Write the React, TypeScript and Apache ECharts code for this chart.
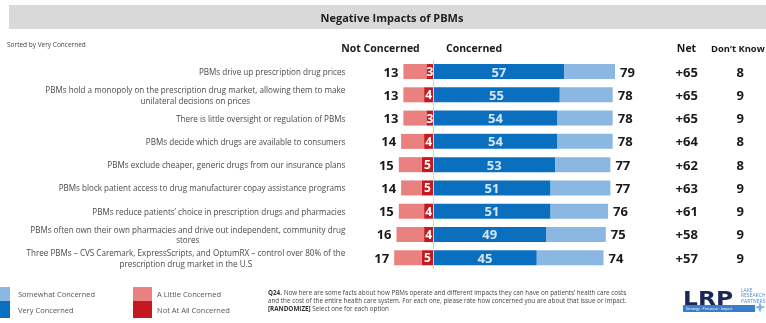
import React, { useEffect, useRef } from "react";
import * as echarts from "echarts";

const statements = [
  "PBMs drive up prescription drug prices",
  "PBMs hold a monopoly on the prescription drug market, allowing them to make\nunilateral decisions on prices",
  "There is little oversight or regulation of PBMs",
  "PBMs decide which drugs are available to consumers",
  "PBMs exclude cheaper, generic drugs from our insurance plans",
  "PBMs block patient access to drug manufacturer copay assistance programs",
  "PBMs reduce patients\u2019 choice in prescription drugs and pharmacies",
  "PBMs often own their own pharmacies and drive out independent, community drug\nstores",
  "Three PBMs \u2013 CVS Caremark, ExpressScripts, and OptumRX \u2013 control over 80% of the\nprescription drug market in the U.S",
];
const notAtAll = [3, 4, 3, 4, 5, 5, 4, 4, 5];
const notConcerned = [13, 13, 13, 14, 15, 14, 15, 16, 17];
const veryConcerned = [57, 55, 54, 54, 53, 51, 51, 49, 45];
const concerned = [79, 78, 78, 78, 77, 77, 76, 75, 74];
const net = [65, 65, 65, 64, 62, 63, 61, 58, 57];
const dontKnow = [8, 9, 9, 8, 8, 9, 9, 9, 9];

const seriesNames = ["Very Concerned", "Somewhat Concerned", "Not At All Concerned", "A Little Concerned"];
const COLORS = {
  very: "#0B6FC0",
  somewhat: "#8BB8E3",
  notAtAll: "#C41A1F",
  little: "#E8817F",
};
const FONT = '"Open Sans", "Noto Sans", sans-serif';

export default function App() {
  const ref = useRef<HTMLDivElement>(null);
  useEffect(() => {
    if (!ref.current) return;
    const chart = echarts.init(ref.current, null, { renderer: "svg" });
    const somewhat = concerned.map((c, i) => c - veryConcerned[i]);
    const little = notConcerned.map((n, i) => -(n - notAtAll[i]));
    const nota = notAtAll.map((v) => -v);

    const numLabel = {
      fontFamily: FONT,
      fontWeight: "bold" as const,
      fontSize: 13,
      color: "#1a1a1a",
    };

    const option: any = {
      animation: false,
      grid: { left: 387.3, right: 148.7, top: 59.9, bottom: 53.6, containLabel: false },
      xAxis: { type: "value", min: -20, max: 80, show: false },
      yAxis: [
        {
          type: "category",
          data: statements,
          inverse: true,
          axisLine: { show: false },
          axisTick: { show: false },
          axisLabel: {
            interval: 0,
            margin: 42,
            align: "right",
            formatter: (v: string) => v.split("\n").map((l) => `{c|${l}}`).join("\n"),
            rich: {
              c: { align: "center", fontFamily: FONT, fontSize: 8.1, color: "#4a4a4a", lineHeight: 10.5 },
            },
          },
        },
        {
          type: "category",
          data: statements,
          inverse: true,
          position: "right",
          axisLine: { show: false },
          axisTick: { show: false },
          axisLabel: {
            interval: 0,
            margin: 69.4,
            align: "center",
            formatter: (_v: string, i: number) => "+" + net[i],
            ...numLabel,
          },
        },
        {
          type: "category",
          data: statements,
          inverse: true,
          position: "right",
          axisLine: { show: false },
          axisTick: { show: false },
          axisLabel: {
            interval: 0,
            margin: 123,
            align: "center",
            formatter: (_v: string, i: number) => String(dontKnow[i]),
            ...numLabel,
          },
        },
      ],
      series: [
        {
          name: seriesNames[0],
          type: "bar",
          stack: "t",
          barWidth: 15,
          data: veryConcerned,
          itemStyle: { color: COLORS.very },
          label: {
            show: true,
            position: "inside",
            fontFamily: FONT,
            fontWeight: "bold",
            fontSize: 13,
            color: "#d6e6f6",
          },
          markLine: {
            silent: true,
            symbol: "none",
            label: { show: false },
            lineStyle: { color: "#d4d4d4", width: 1, type: "solid" },
            data: [{ xAxis: 0 }],
          },
        },
        {
          name: seriesNames[1],
          type: "bar",
          stack: "t",
          barWidth: 15,
          data: somewhat,
          itemStyle: { color: COLORS.somewhat },
          label: {
            show: true,
            position: "right",
            distance: 5,
            formatter: (p: any) => String(concerned[p.dataIndex]),
            ...numLabel,
          },
        },
        {
          name: seriesNames[2],
          type: "bar",
          stack: "t",
          barWidth: 15,
          data: nota,
          itemStyle: { color: COLORS.notAtAll },
          label: {
            show: true,
            position: "inside",
            formatter: (p: any) => String(notAtAll[p.dataIndex]),
            fontFamily: FONT,
            fontWeight: "bold",
            fontSize: 12,
            color: "#ffffff",
          },
        },
        {
          name: seriesNames[3],
          type: "bar",
          stack: "t",
          barWidth: 15,
          data: little,
          itemStyle: { color: COLORS.little },
          label: {
            show: true,
            position: "left",
            distance: 5,
            formatter: (p: any) => String(notConcerned[p.dataIndex]),
            ...numLabel,
          },
        },
      ],
      graphic: [
        { type: "rect", x: 9, y: 5, shape: { width: 757, height: 24 }, style: { fill: "#D9D9D9" } },
        {
          type: "text",
          x: 392,
          y: 17,
          style: { text: "Negative Impacts of PBMs", fontFamily: FONT, fontWeight: "bold", fontSize: 11, fill: "#222", align: "center", verticalAlign: "middle" },
        },
        {
          type: "text",
          x: 7,
          y: 44,
          style: { text: "Sorted by Very Concerned", fontFamily: FONT, fontSize: 6.5, fill: "#444", align: "left", verticalAlign: "middle" },
        },
        {
          type: "text",
          x: 380.5,
          y: 48,
          style: { text: "Not Concerned", fontFamily: FONT, fontWeight: "bold", fontSize: 10.5, fill: "#1a1a1a", align: "center", verticalAlign: "middle" },
        },
        {
          type: "text",
          x: 446,
          y: 48,
          style: { text: "Concerned", fontFamily: FONT, fontWeight: "bold", fontSize: 10.5, fill: "#1a1a1a", align: "left", verticalAlign: "middle" },
        },
        {
          type: "text",
          x: 686.5,
          y: 48,
          style: { text: "Net", fontFamily: FONT, fontWeight: "bold", fontSize: 10.5, fill: "#1a1a1a", align: "center", verticalAlign: "middle" },
        },
        {
          type: "text",
          x: 711,
          y: 48,
          style: { text: "Don\u2019t Know", fontFamily: FONT, fontWeight: "bold", fontSize: 9.4, fill: "#1a1a1a", align: "left", verticalAlign: "middle" },
        },
        // legend
        { type: "rect", x: 0, y: 287, shape: { width: 10, height: 14 }, style: { fill: COLORS.somewhat } },
        { type: "rect", x: 0, y: 301, shape: { width: 10, height: 17 }, style: { fill: COLORS.very } },
        { type: "text", x: 18, y: 294, style: { text: seriesNames[1], fontFamily: FONT, fontSize: 7.5, fill: "#555", verticalAlign: "middle" } },
        { type: "text", x: 18, y: 310, style: { text: seriesNames[0], fontFamily: FONT, fontSize: 7.5, fill: "#555", verticalAlign: "middle" } },
        { type: "rect", x: 133, y: 287, shape: { width: 19, height: 14 }, style: { fill: COLORS.little } },
        { type: "rect", x: 133, y: 301, shape: { width: 19, height: 17 }, style: { fill: COLORS.notAtAll } },
        { type: "text", x: 157, y: 294, style: { text: seriesNames[3], fontFamily: FONT, fontSize: 7.5, fill: "#555", verticalAlign: "middle" } },
        { type: "text", x: 157, y: 310, style: { text: seriesNames[2], fontFamily: FONT, fontSize: 7.5, fill: "#555", verticalAlign: "middle" } },
        // footnote
        {
          type: "text",
          x: 268,
          y: 289,
          style: {
            text:
              "{r|}{b|Q24.}{r| Now here are some facts about how PBMs operate and different impacts they can have on patients\u2019 health care costs}\n{r|and the cost of the entire health care system. For each one, please rate how concerned you are about that issue or impact.}\n{b|[RANDOMIZE]}{r| Select one for each option}",
            fontFamily: FONT,
            fontSize: 6.3,
            lineHeight: 7.8,
            fill: "#444",
            verticalAlign: "top",
            rich: {
              b: { fontWeight: "bold", fontFamily: FONT, fontSize: 6.3, lineHeight: 7.8, fill: "#333" },
              r: { fontFamily: FONT, fontSize: 6.3, lineHeight: 7.8, fill: "#444" },
            },
          },
        },
        // logo
        {
          type: "text",
          x: 683,
          y: 288,
          scaleX: 1.2,
          style: { text: "LRP", fontFamily: '"DejaVu Sans", sans-serif', fontWeight: "bold", fontSize: 19.5, fill: "#1B2757", verticalAlign: "top" },
        },
        {
          type: "text",
          x: 741,
          y: 287,
          style: { text: "LAKE\nRESEARCH\nPARTNERS", fontFamily: FONT, fontSize: 5, lineHeight: 5.5, fill: "#4A8FD6", verticalAlign: "top" },
        },
        { type: "rect", x: 683, y: 305, shape: { width: 72, height: 7 }, style: { fill: "#3A7DC9" } },
        {
          type: "text",
          x: 686,
          y: 308.5,
          style: { text: "Strategy \u00b7 Precision \u00b7 Impact", fontFamily: FONT, fontSize: 3.6, fill: "#fff", verticalAlign: "middle" },
        },
        {
          type: "polygon",
          shape: { points: [[760, 302], [761.5, 306], [766, 307], [761.5, 308.5], [760, 313], [758.5, 308.5], [754, 307], [758.5, 306]] },
          style: { fill: "#7FB3E6" },
        },
      ],
    };
    chart.setOption(option);
    return () => chart.dispose();
  }, []);
  return <div ref={ref} style={{ position: "fixed", left: 0, top: 0, width: 766, height: 323 }} />;
}
